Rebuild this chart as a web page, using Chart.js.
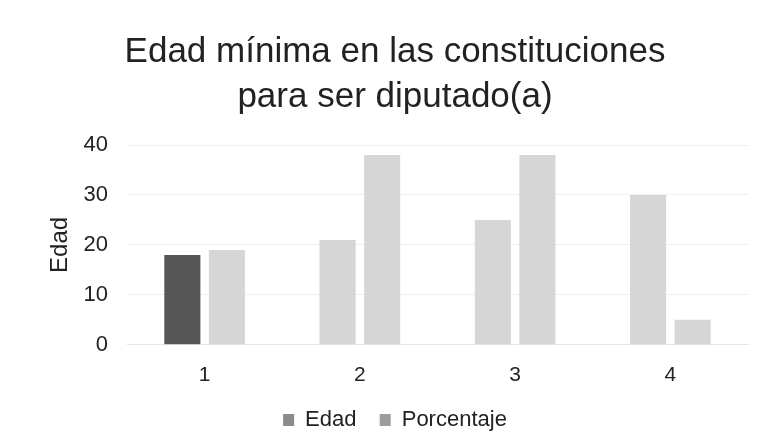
<!DOCTYPE html>
<html lang="es">
<head>
<meta charset="UTF-8">
<title>Edad mínima</title>
<script src="https://cdn.jsdelivr.net/npm/chart.js"></script>
<style>
    body { margin: 0; padding: 0; background: #fff; }
    .wrap { width: 768px; height: 434px; }
</style>
</head>
<body>
<div class="wrap"><canvas id="chart" width="768" height="434"></canvas></div>
<script>
    const categories = ['1', '2', '3', '4'];
    const edad = [18, 21, 25, 30];
    const porcentaje = [19, 38, 38, 5];
    const yTicks = [0, 10, 20, 30, 40];

    const light = '#d6d6d6';
    const dark = '#565656';

    const ctx = document.getElementById('chart').getContext('2d');
    new Chart(ctx, {
        type: 'bar',
        data: {
            labels: categories,
            datasets: [{
                label: 'Edad',
                data: edad,
                backgroundColor: [dark, light, light, light],
                barPercentage: 0.81,
                categoryPercentage: 0.574
            }, {
                label: 'Porcentaje',
                data: porcentaje,
                backgroundColor: light,
                barPercentage: 0.81,
                categoryPercentage: 0.574
            }]
        },
        options: {
            responsive: false,
            animation: false,
            layout: { padding: { left: 42, right: 20, top: 18, bottom: -7 } },
            plugins: {
                title: {
                    display: true,
                    text: ['Edad mínima en las constituciones', 'para ser diputado(a)'],
                    color: '#222',
                    font: { family: 'Liberation Sans', size: 35, weight: 'normal', lineHeight: 1.286 },
                    padding: { top: 12, bottom: 25 }
                },
                legend: {
                    position: 'bottom',
                    labels: {
                        color: '#222',
                        font: { family: 'Liberation Sans', size: 22 },
                        boxWidth: 11,
                        boxHeight: 12,
                        padding: 11,
                        generateLabels: function (chart) {
                            const cols = ['#8c8c8c', '#9c9c9c'];
                            return chart.data.datasets.map((d, i) => ({
                                // a little extra room after the first entry
                                text: i === 0 ? d.label + '  ' : d.label,
                                fillStyle: cols[i],
                                strokeStyle: cols[i],
                                lineWidth: 0,
                                datasetIndex: i,
                                fontColor: '#222'
                            }));
                        }
                    }
                }
            },
            scales: {
                x: {
                    grid: { display: false },
                    border: { display: true, color: '#e6e6e6' },
                    ticks: { color: '#222', font: { family: 'Liberation Sans', size: 21 }, padding: 10 }
                },
                y: {
                    min: 0,
                    max: 40,
                    afterBuildTicks: (axis) => { axis.ticks = yTicks.map(v => ({ value: v })); },
                    afterFit: (axis) => { axis.width = 85; },
                    grid: { color: '#efefef', drawTicks: false },
                    border: { display: false },
                    ticks: { color: '#222', font: { family: 'Liberation Sans', size: 22 }, padding: 19 },
                    title: {
                        display: true,
                        text: 'Edad',
                        color: '#222',
                        font: { family: 'Liberation Sans', size: 24, lineHeight: 1.2 },
                        padding: { top: 4, bottom: 0 }
                    }
                }
            }
        }
    });
</script>
</body>
</html>
